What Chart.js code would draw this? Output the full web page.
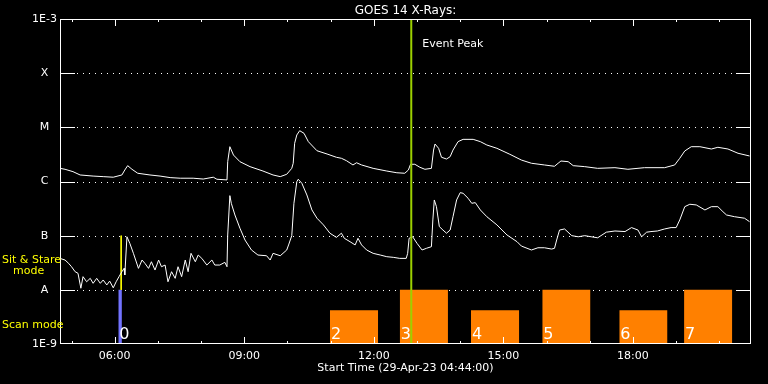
<!DOCTYPE html>
<html>
<head>
<meta charset="utf-8">
<title>GOES 14 X-Rays</title>
<script src="https://cdn.jsdelivr.net/npm/chart.js@4.4.0/dist/chart.umd.min.js"></script>
<style>
  html, body { margin: 0; padding: 0; background: #000; }
  #wrap { width: 768px; height: 384px; position: relative; }
</style>
</head>
<body>
<div id="wrap"><canvas id="goesChart"></canvas></div>
<script>
// minutes after the start time (29-Apr-23 04:44:00)
const startClock = 4 * 60 + 44;

// 1-8 A channel
const longMin = [0,7,18,28,46,60,74,86,90,94,100,108,125,139,153,167,185,199,213,218,232,233,236,241,250,264,282,296,306,315,322,324,326,329,333,339,345,357,371,384,391,398,407,412,419,435,454,468,479,484,487,493,500,507,516,519,521,526,530,537,542,546,553,560,574,584,593,607,625,641,655,673,687,692,696,706,713,729,747,771,789,812,840,854,861,868,877,889,905,914,928,942,958];
const longFlux = [1.75e-6,1.68e-6,1.52e-6,1.32e-6,1.26e-6,1.23e-6,1.20e-6,1.32e-6,1.63e-6,1.96e-6,1.68e-6,1.42e-6,1.32e-6,1.26e-6,1.18e-6,1.15e-6,1.15e-6,1.11e-6,1.20e-6,1.10e-6,1.07e-6,2.32e-6,4.39e-6,3.08e-6,2.32e-6,1.88e-6,1.56e-6,1.32e-6,1.23e-6,1.36e-6,1.75e-6,2.17e-6,5.08e-6,7.22e-6,8.67e-6,7.76e-6,5.44e-6,3.70e-6,3.22e-6,2.80e-6,2.68e-6,2.42e-6,2.02e-6,2.22e-6,2.02e-6,1.75e-6,1.56e-6,1.45e-6,1.42e-6,1.63e-6,2.08e-6,2.08e-6,1.83e-6,1.68e-6,1.75e-6,3.81e-6,4.92e-6,4.10e-6,2.80e-6,2.60e-6,2.87e-6,3.81e-6,5.44e-6,6.00e-6,6.00e-6,5.44e-6,4.72e-6,4.10e-6,3.18e-6,2.49e-6,2.17e-6,2.02e-6,1.91e-6,2.17e-6,2.39e-6,2.32e-6,1.96e-6,1.88e-6,1.75e-6,1.80e-6,1.68e-6,1.80e-6,1.80e-6,2.02e-6,2.68e-6,3.66e-6,4.39e-6,4.39e-6,3.98e-6,4.28e-6,3.98e-6,3.32e-6,2.96e-6];

// 0.5-4 A channel
const shortMin = [0,7,12,16,21,25,29,32,37,42,46,51,56,60,65,69,74,78,82,86,89,90,93,97,102,109,114,118,123,127,132,137,141,146,150,155,160,164,169,174,178,182,188,192,197,204,211,215,222,229,232,233,236,238,243,250,257,266,275,287,292,296,306,315,318,322,325,329,331,336,343,350,357,366,375,384,391,395,403,410,414,419,426,435,445,454,463,472,481,483,485,490,496,503,509,516,518,520,523,527,532,537,542,546,551,556,560,567,572,577,584,593,607,621,635,641,655,664,673,683,687,690,694,701,711,720,729,738,747,759,771,785,794,803,808,815,821,830,840,849,856,861,868,875,884,896,905,914,921,926,937,951,958];
const shortFlux = [3.8e-8,3.55e-8,3.08e-8,2.67e-8,2.16e-8,2.02e-8,1.07e-8,1.75e-8,1.41e-8,1.63e-8,1.32e-8,1.63e-8,1.32e-8,1.52e-8,1.23e-8,1.45e-8,1.09e-8,1.41e-8,1.75e-8,2.16e-8,2.49e-8,1.88e-8,9.54e-8,7.22e-8,4.72e-8,2.49e-8,3.55e-8,3.08e-8,2.49e-8,3.30e-8,2.32e-8,3.55e-8,2.67e-8,2.87e-8,1.41e-8,2.16e-8,1.63e-8,2.67e-8,1.75e-8,3.55e-8,2.16e-8,4.72e-8,3.30e-8,4.39e-8,3.81e-8,2.87e-8,3.55e-8,2.87e-8,2.87e-8,3.22e-8,2.67e-8,1.03e-7,5.48e-7,3.96e-7,2.41e-7,1.37e-7,8.31e-8,5.44e-8,4.39e-8,4.26e-8,3.55e-8,4.72e-8,4.26e-8,5.44e-8,7.0e-8,1.0e-7,3.96e-7,9.93e-7,1.10e-6,9.27e-7,5.64e-7,2.98e-7,2.10e-7,1.58e-7,1.11e-7,9.30e-8,1.11e-7,8.94e-8,7.73e-8,6.74e-8,8.94e-8,6.74e-8,5.44e-8,4.72e-8,4.39e-8,4.09e-8,3.98e-8,3.81e-8,3.81e-8,4.72e-8,8.94e-8,9.54e-8,7.22e-8,5.44e-8,5.84e-8,6.26e-8,1.95e-7,4.56e-7,3.43e-7,1.47e-7,1.27e-7,1.11e-7,1.27e-7,2.24e-7,4.56e-7,6.23e-7,6.06e-7,4.90e-7,3.96e-7,4.07e-7,2.98e-7,2.24e-7,1.58e-7,1.03e-7,7.73e-8,6.43e-8,5.44e-8,5.98e-8,5.98e-8,5.66e-8,5.84e-8,8.31e-8,1.27e-7,1.33e-7,1.0e-7,9.54e-8,1.0e-7,9.54e-8,9.14e-8,1.16e-7,1.22e-7,1.19e-7,1.41e-7,1.27e-7,9.54e-8,1.16e-7,1.19e-7,1.22e-7,1.33e-7,1.41e-7,1.41e-7,1.95e-7,3.43e-7,3.80e-7,3.69e-7,2.98e-7,3.43e-7,3.43e-7,2.77e-7,2.41e-7,2.24e-7,2.10e-7,1.81e-7];

// observing modes
const stareStart = [81];
const stareEnd = [86];
const stareTop = [1e-8];
const stareLabels = ['0'];
const stareMarkMin = 85;

const scanStart = [375, 472, 571, 670, 777, 867];
const scanEnd = [442, 539, 638, 737, 844, 934];
const scanTop = [4.2e-9, 1e-8, 4.2e-9, 1e-8, 4.2e-9, 1e-8];
const scanLabels = ['2', '3', '4', '5', '6', '7'];

const eventPeakMin = 488;

// axes
const hourMarks = [16, 76, 136, 196, 256, 316, 376, 436, 496, 556, 616, 676, 736, 796, 856, 916];
const fluxLevels = [1e-9, 1e-8, 1e-7, 1e-6, 1e-5, 1e-4, 1e-3];
const fluxLabels = ['1E-9', 'A', 'B', 'C', 'M', 'X', '1E-3'];

const FONT = '"DejaVu Sans", sans-serif';
const ORANGE = '#ff8000';

function pairUp(xs, ys) {
  return xs.map((x, i) => ({ x: x, y: ys[i] }));
}

function clockLabel(v) {
  const t = startClock + v;
  const h = Math.floor(t / 60);
  const m = t % 60;
  if (m !== 0 || h % 3 !== 0) return '';
  return String(h).padStart(2, '0') + ':00';
}

const datasets = [];

datasets.push({
  label: 'Event Peak',
  data: [{ x: eventPeakMin, y: 1e-9 }, { x: eventPeakMin, y: 1e-3 }],
  borderColor: '#9cd000',
  borderWidth: 2,
  order: 0
});
datasets.push({
  label: '1-8 A',
  data: pairUp(longMin, longFlux),
  borderColor: '#ffffff',
  borderWidth: 1,
  order: 1
});
datasets.push({
  label: '0.5-4 A',
  data: pairUp(shortMin, shortFlux),
  borderColor: '#ffffff',
  borderWidth: 1,
  order: 1
});
datasets.push({
  label: 'stare mark',
  data: [{ x: stareMarkMin, y: 1e-7 }, { x: stareMarkMin, y: 1e-8 }],
  borderColor: '#ffff00',
  borderWidth: 1,
  order: 2
});
stareStart.forEach((s, i) => {
  datasets.push({
    label: 'stare ' + stareLabels[i],
    data: [{ x: s, y: stareTop[i] }, { x: stareEnd[i], y: stareTop[i] }],
    borderColor: '#7373ff',
    backgroundColor: '#7373ff',
    borderWidth: 0,
    fill: 'start',
    order: 3
  });
});
scanStart.forEach((s, i) => {
  datasets.push({
    label: 'scan ' + scanLabels[i],
    data: [{ x: s, y: scanTop[i] }, { x: scanEnd[i], y: scanTop[i] }],
    borderColor: ORANGE,
    backgroundColor: ORANGE,
    borderWidth: 0,
    fill: 'start',
    order: 3
  });
});

const goesFrame = {
  id: 'goesFrame',
  beforeDatasetsDraw(chart) {
    const { ctx, chartArea: a, scales: { y } } = chart;
    ctx.save();
    ctx.strokeStyle = '#ffffff';
    ctx.lineWidth = 1;
    fluxLevels.slice(1, -1).forEach(v => {
      const py = Math.round(y.getPixelForValue(v)) + 0.5;
      ctx.setLineDash([]);
      ctx.beginPath();
      ctx.moveTo(a.left, py); ctx.lineTo(a.left + 15, py);
      ctx.moveTo(a.right - 15, py); ctx.lineTo(a.right, py);
      ctx.stroke();
      ctx.setLineDash([1, 5]);
      ctx.beginPath();
      ctx.moveTo(a.left + 17, py); ctx.lineTo(a.right - 15, py);
      ctx.stroke();
    });
    ctx.restore();
  },
  afterDatasetsDraw(chart) {
    const { ctx, chartArea: a, scales: { x, y } } = chart;
    ctx.save();
    ctx.strokeStyle = '#ffffff';
    ctx.lineWidth = 1;
    ctx.strokeRect(a.left + 0.5, a.top + 0.5, a.right - a.left - 1, a.bottom - a.top - 1);
    ctx.beginPath();
    hourMarks.forEach(v => {
      const px = Math.round(x.getPixelForValue(v)) + 0.5;
      const len = clockLabel(v) ? 7 : 3;
      ctx.moveTo(px, a.top); ctx.lineTo(px, a.top + len);
      ctx.moveTo(px, a.bottom); ctx.lineTo(px, a.bottom - len);
    });
    ctx.stroke();

    ctx.fillStyle = '#ffffff';
    ctx.textBaseline = 'alphabetic';
    ctx.textAlign = 'center';
    ctx.font = '12px ' + FONT;
    ctx.fillText('GOES 14 X-Rays:', (a.left + a.right) / 2, 14);
    ctx.font = '11px ' + FONT;
    ctx.fillText('Start Time (29-Apr-23 04:44:00)', (a.left + a.right) / 2, 371);

    ctx.textAlign = 'left';
    ctx.fillText('Event Peak', x.getPixelForValue(eventPeakMin) + 11, 47);

    ctx.font = '16px ' + FONT;
    stareStart.forEach((s, i) => {
      ctx.fillText(stareLabels[i], x.getPixelForValue(s) + 1, a.bottom - 5);
    });
    scanStart.forEach((s, i) => {
      ctx.fillText(scanLabels[i], x.getPixelForValue(s) + 1, a.bottom - 5);
    });

    ctx.fillStyle = '#ffff00';
    ctx.font = '11px ' + FONT;
    ctx.fillText('Sit & Stare', 2, 263);
    ctx.fillText('mode', 13, 274);
    ctx.fillText('Scan mode', 2, 328);
    ctx.restore();
  }
};

new Chart(document.getElementById('goesChart'), {
  type: 'line',
  data: { datasets: datasets },
  options: {
    responsive: true,
    maintainAspectRatio: false,
    animation: false,
    devicePixelRatio: 1,
    layout: { padding: { top: 19, right: 17, left: 0, bottom: 0 } },
    elements: {
      point: { radius: 0, hoverRadius: 0 },
      line: { tension: 0 }
    },
    plugins: {
      legend: { display: false },
      tooltip: { enabled: false },
      title: { display: false }
    },
    scales: {
      x: {
        type: 'linear',
        min: 0,
        max: 960,
        grid: { display: false, drawTicks: false },
        border: { display: false },
        afterBuildTicks: scale => { scale.ticks = hourMarks.map(v => ({ value: v })); },
        afterFit: scale => { scale.height = 40; },
        ticks: {
          color: '#ffffff',
          font: { family: FONT, size: 11 },
          padding: 6,
          autoSkip: false,
          maxRotation: 0,
          callback: v => clockLabel(v)
        }
      },
      y: {
        type: 'logarithmic',
        min: 1e-9,
        max: 1e-3,
        grid: { display: false, drawTicks: false },
        border: { display: false },
        afterBuildTicks: scale => { scale.ticks = fluxLevels.map(v => ({ value: v })); },
        afterFit: scale => { scale.width = 60; },
        ticks: {
          color: '#ffffff',
          font: { family: FONT, size: 11 },
          padding: 3,
          crossAlign: 'center',
          autoSkip: false,
          callback: v => {
            const i = fluxLevels.findIndex(f => Math.abs(Math.log10(f) - Math.log10(v)) < 1e-6);
            return i >= 0 ? fluxLabels[i] : '';
          }
        }
      }
    }
  },
  plugins: [goesFrame]
});
</script>
</body>
</html>
